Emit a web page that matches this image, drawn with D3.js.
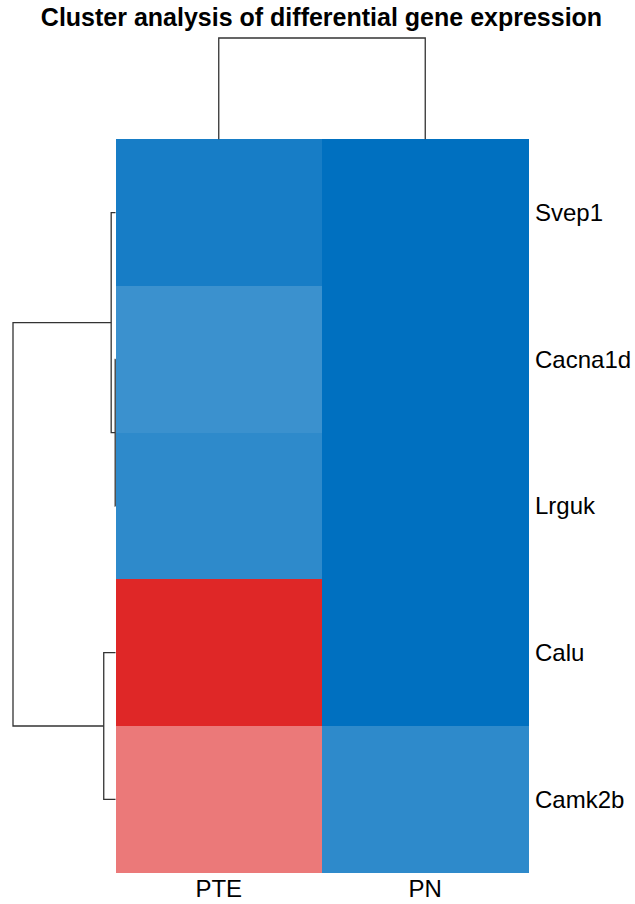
<!DOCTYPE html>
<html>
<head>
<meta charset="utf-8">
<script src="https://cdn.jsdelivr.net/npm/d3@7"></script>
<style>
  html, body { margin: 0; padding: 0; background: #ffffff; }
  svg { display: block; }
  text { font-family: "Liberation Sans", Arial, sans-serif; fill: #000; }
</style>
</head>
<body>
<svg id="chart" width="635" height="904"></svg>
<script>
// Genes (rows, in dendrogram order) and samples (columns)
const genes = ["Svep1", "Cacna1d", "Lrguk", "Calu", "Camk2b"];
const samples = ["PTE", "PN"];

// Scaled expression per sample, one value per gene
const pteValues = [-0.91, -0.77, -0.82, 1.0, 0.62];
const pnValues = [-1.0, -1.0, -1.0, -1.0, -0.82];

// Row clustering: [left, right, merge height]
const rowTree = [["Svep1", [["Cacna1d", "Lrguk", 0.03]], 0.43], [["Calu", "Camk2b", 1.17]], 10.2];
// Column clustering
const colTree = ["PTE", "PN", 1.0];

const colorDomain = [-1, 0, 1];
const colorRange = ["#0070C0", "#FFFFFF", "#DF2727"];

const svg = d3.select("#chart");
const hm = { left: 115.5, right: 528.5, top: 139.3, bottom: 872.7 };

const x = d3.scaleBand().domain(samples).range([hm.left, hm.right]);
const y = d3.scaleBand().domain(genes).range([hm.top, hm.bottom]);
const color = d3.scaleLinear().domain(colorDomain).range(colorRange).interpolate(d3.interpolateRgb);

const cells = [];
genes.forEach((g, i) => {
  cells.push({ gene: g, sample: "PTE", v: pteValues[i] });
  cells.push({ gene: g, sample: "PN", v: pnValues[i] });
});

svg.append("g").selectAll("rect").data(cells).join("rect")
  .attr("x", d => x(d.sample))
  .attr("y", d => y(d.gene))
  .attr("width", x.bandwidth())
  .attr("height", y.bandwidth())
  .attr("fill", d => color(d.v))
  .attr("shape-rendering", "crispEdges");

// Title
svg.append("text")
  .attr("x", 321.5).attr("y", 26)
  .attr("text-anchor", "middle")
  .style("font-weight", "bold").style("font-size", "25px")
  .text("Cluster analysis of differential gene expression");

// Row labels
svg.append("g").selectAll("text").data(genes).join("text")
  .attr("x", hm.right + 6.5)
  .attr("y", d => y(d) + y.bandwidth() / 2)
  .attr("dy", "0.35em")
  .style("font-size", "24px")
  .text(d => d);

// Column labels
svg.append("g").selectAll("text").data(samples).join("text")
  .attr("x", d => x(d) + x.bandwidth() / 2)
  .attr("y", 897)
  .attr("text-anchor", "middle")
  .style("font-size", "24px")
  .text(d => d);

// Build a hierarchy from a nested [left, right, height] tree
function toNode(t) {
  if (typeof t === "string") return { name: t, height: 0 };
  if (t.length === 1) return toNode(t[0]);
  return { children: [toNode(t[0]), toNode(t[1])], height: t[2] };
}

const lineColor = "#333333";

// Row dendrogram (left side)
const rowRoot = toNode(rowTree);
const rowH = d3.scaleLinear().domain([0, rowRoot.height]).range([hm.left, 13]);
function placeRow(n) {
  if (!n.children) { n.pos = y(n.name) + y.bandwidth() / 2; return; }
  n.children.forEach(placeRow);
  n.pos = d3.mean(n.children, c => c.pos);
}
placeRow(rowRoot);
const rowPaths = [];
(function walk(n) {
  if (!n.children) return;
  const [a, b] = n.children;
  const xn = rowH(n.height);
  rowPaths.push(`M${rowH(a.height)},${a.pos}H${xn}V${b.pos}H${rowH(b.height)}`);
  n.children.forEach(walk);
})(rowRoot);
svg.append("g").selectAll("path").data(rowPaths).join("path")
  .attr("d", d => d).attr("fill", "none")
  .attr("stroke", lineColor).attr("stroke-width", 1.3);

// Column dendrogram (top)
const colRoot = toNode(colTree);
const colH = d3.scaleLinear().domain([0, colRoot.height]).range([hm.top, 38]);
function placeCol(n) {
  if (!n.children) { n.pos = x(n.name) + x.bandwidth() / 2; return; }
  n.children.forEach(placeCol);
  n.pos = d3.mean(n.children, c => c.pos);
}
placeCol(colRoot);
const colPaths = [];
(function walk(n) {
  if (!n.children) return;
  const [a, b] = n.children;
  const yn = colH(n.height);
  colPaths.push(`M${a.pos},${colH(a.height)}V${yn}H${b.pos}V${colH(b.height)}`);
  n.children.forEach(walk);
})(colRoot);
svg.append("g").selectAll("path").data(colPaths).join("path")
  .attr("d", d => d).attr("fill", "none")
  .attr("stroke", lineColor).attr("stroke-width", 1.3);
</script>
</body>
</html>
